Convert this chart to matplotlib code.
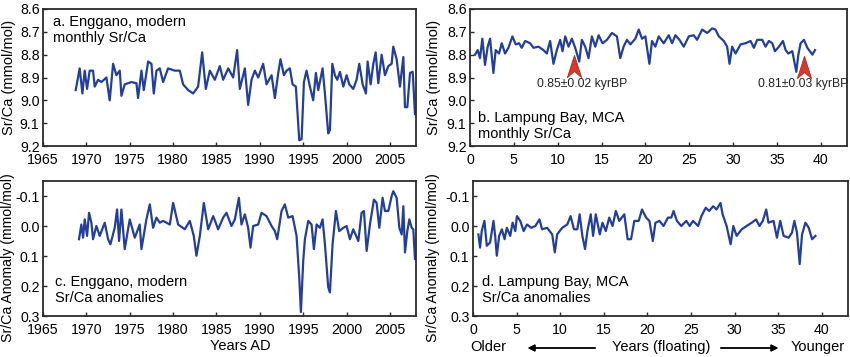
import matplotlib.pyplot as plt
from matplotlib.path import Path

plt.rcParams['font.family'] = ['Liberation Sans', 'DejaVu Sans']

# a. Enggano modern monthly Sr/Ca
a_year = [1968.77, 1969.23, 1969.54, 1969.81, 1970.08, 1970.38, 1970.77, 1970.96, 1971.35, 1971.73,
          1972.31, 1972.69, 1973.08, 1973.46, 1973.85, 1974.04, 1974.42, 1975.19, 1975.77, 1975.96,
          1976.35, 1976.62, 1977.12, 1977.50, 1977.77, 1978.08, 1978.46, 1978.85, 1979.42, 1980.19,
          1980.77, 1981.15, 1981.73, 1982.31, 1982.88, 1983.35, 1983.77, 1984.23, 1984.81, 1985.38,
          1985.77, 1986.35, 1986.92, 1987.38, 1987.69, 1988.27, 1988.65, 1989.04, 1989.42, 1989.81,
          1990.38, 1990.77, 1991.35, 1991.73, 1992.12, 1992.38, 1992.77, 1993.08, 1993.46, 1993.77,
          1994.15, 1994.54, 1994.81, 1995.08, 1995.38, 1995.77, 1996.15, 1996.46, 1996.73, 1997.23,
          1997.50, 1997.88, 1998.08, 1998.35, 1998.65, 1998.92, 1999.23, 1999.62, 2000.00, 2000.31,
          2000.77, 2001.15, 2001.46, 2001.85, 2002.23, 2002.42, 2002.77, 2003.08, 2003.35, 2003.65,
          2004.04, 2004.42, 2004.81, 2005.19, 2005.38, 2005.77, 2006.15, 2006.54, 2006.73, 2007.00,
          2007.31, 2007.62, 2007.88]
a_srca = [8.955, 8.86, 8.97, 8.87, 8.95, 8.87, 8.87, 8.94, 8.91, 8.92,
          8.90, 9.0, 8.84, 8.89, 8.87, 8.98, 8.93, 8.92, 8.925, 8.99,
          8.87, 8.955, 8.83, 8.84, 8.97, 8.87, 8.86, 8.92, 8.86, 8.87,
          8.87, 8.93, 8.955, 8.97, 8.94, 8.79, 8.95, 8.87, 8.91, 8.85,
          8.91, 8.86, 8.90, 8.78, 8.95, 8.86, 9.02, 8.91, 8.87, 8.90,
          8.84, 8.93, 8.89, 8.99, 8.88, 8.82, 8.89, 8.87, 8.86, 8.93,
          8.94, 9.175, 9.17, 8.92, 8.87, 8.94, 9.0, 8.88, 8.955, 8.86,
          8.97, 9.145, 9.13, 8.84, 8.89, 8.91, 8.875, 8.94, 8.89, 8.93,
          8.95, 8.91, 8.84, 8.93, 8.97, 8.83, 8.93, 8.84, 8.79, 8.925,
          8.80, 8.89, 8.85, 8.84, 8.765, 8.82, 8.94, 8.81, 9.03, 9.03,
          8.88, 8.875, 9.06]

# b. Lampung Bay MCA monthly Sr/Ca (floating years)
b_year = [0.57, 0.88, 1.14, 1.41, 1.71, 2.02, 2.29, 2.67, 2.93, 3.31,
          3.62, 4.0, 4.38, 4.84, 5.22, 5.6, 5.9, 6.29, 6.86, 7.24,
          7.81, 8.38, 8.76, 9.14, 9.52, 9.9, 10.29, 10.55, 10.86, 11.24,
          11.62, 12.0, 12.46, 12.76, 13.14, 13.52, 13.9, 14.29, 14.67, 15.12,
          15.62, 16.19, 16.76, 17.14, 17.52, 17.9, 18.29, 18.86, 19.24, 19.62,
          20.0, 20.46, 20.76, 21.14, 21.52, 22.09, 22.67, 23.05, 23.43, 23.89,
          24.38, 24.95, 25.52, 25.9, 26.48, 27.05, 27.62, 28.0, 28.38, 28.95,
          29.33, 29.6, 29.9, 30.29, 30.86, 31.43, 32.0, 32.38, 32.76, 33.33,
          33.71, 34.09, 34.48, 34.78, 35.24, 35.69, 36.0, 36.3, 36.76, 37.22,
          37.45, 37.71, 38.09, 38.48, 39.05, 39.35]
b_srca = [8.80, 8.78, 8.815, 8.73, 8.845, 8.765, 8.73, 8.88, 8.78, 8.795,
          8.75, 8.795, 8.77, 8.72, 8.755, 8.75, 8.77, 8.74, 8.75, 8.77,
          8.765, 8.78, 8.795, 8.74, 8.84, 8.78, 8.735, 8.785, 8.72, 8.765,
          8.73, 8.77, 8.83, 8.735, 8.765, 8.815, 8.72, 8.765, 8.715, 8.75,
          8.735, 8.705, 8.72, 8.815, 8.765, 8.735, 8.755, 8.73, 8.69, 8.73,
          8.72, 8.84, 8.74, 8.765, 8.72, 8.75, 8.715, 8.75, 8.715, 8.735,
          8.765, 8.72, 8.715, 8.735, 8.69, 8.705, 8.685, 8.69, 8.72, 8.74,
          8.765, 8.84, 8.765, 8.795, 8.755, 8.75, 8.74, 8.77, 8.735, 8.735,
          8.765, 8.74, 8.75, 8.785, 8.765, 8.74, 8.78, 8.795, 8.785, 8.875,
          8.80, 8.75, 8.735, 8.77, 8.80, 8.78]

# c. Enggano anomalies
c_year = [1969.15, 1969.42, 1969.62, 1969.81, 1970.08, 1970.31, 1970.58, 1970.77, 1971.15, 1971.54,
          1972.12, 1972.50, 1972.77, 1973.27, 1973.54, 1973.77, 1974.04, 1974.42, 1975.00, 1975.58,
          1976.15, 1976.35, 1976.92, 1977.31, 1977.69, 1978.08, 1978.46, 1978.85, 1979.62, 1980.00,
          1980.58, 1981.35, 1981.92, 1982.38, 1982.69, 1983.08, 1983.54, 1984.04, 1984.62, 1985.19,
          1985.77, 1986.15, 1986.73, 1987.12, 1987.58, 1987.88, 1988.27, 1988.65, 1988.92, 1989.23,
          1989.81, 1990.19, 1990.77, 1991.35, 1991.73, 1992.00, 1992.50, 1992.88, 1993.27, 1993.77,
          1994.23, 1994.54, 1994.73, 1995.00, 1995.19, 1995.58, 1995.96, 1996.23, 1996.54, 1996.92,
          1997.23, 1997.50, 1997.88, 1998.08, 1998.38, 1998.77, 1999.15, 1999.62, 2000.00, 2000.38,
          2000.77, 2001.35, 2001.73, 2002.00, 2002.31, 2002.69, 2003.15, 2003.46, 2003.77, 2004.15,
          2004.42, 2004.81, 2005.19, 2005.38, 2005.77, 2006.08, 2006.35, 2006.54, 2006.73, 2007.00,
          2007.23, 2007.50, 2007.69, 2007.88]
c_anom = [0.044, -0.005, 0.039, -0.022, 0.033, -0.044, -0.011, 0.044, 0.0, 0.033,
          -0.011, 0.044, 0.061, 0.006, -0.055, 0.050, -0.055, 0.077, -0.022, 0.039,
          -0.005, 0.077, -0.022, -0.072, 0.006, -0.028, -0.011, -0.017, -0.005, -0.077,
          -0.005, 0.011, -0.017, 0.033, 0.099, 0.033, -0.077, 0.011, -0.033, 0.011,
          -0.028, -0.044, 0.0, -0.022, -0.094, -0.005, -0.039, 0.006, 0.072, 0.0,
          -0.005, -0.044, -0.033, 0.0, 0.017, 0.044, -0.050, -0.072, -0.028, -0.033,
          0.033, 0.171, 0.287, 0.116, 0.044, -0.017, -0.005, 0.077, -0.005, 0.006,
          -0.022, 0.061, 0.204, 0.221, 0.061, -0.050, 0.017, 0.006, 0.0, 0.044,
          0.011, 0.050, -0.044, -0.050, 0.083, -0.005, -0.088, -0.077, 0.006, -0.094,
          -0.050, -0.050, -0.099, -0.116, -0.094, 0.006, 0.028, -0.066, 0.088, 0.017,
          -0.022, 0.006, 0.011, 0.110]

# d. Lampung Bay anomalies
d_year = [0.62, 0.81, 1.0, 1.31, 1.58, 1.96, 2.35, 2.54, 2.73, 3.0,
          3.31, 3.62, 3.88, 4.27, 4.54, 4.85, 5.04, 5.42, 5.81, 6.19,
          6.69, 7.15, 7.62, 7.92, 8.5, 9.08, 9.38, 9.65, 10.23, 10.81,
          11.19, 11.58, 11.96, 12.23, 12.54, 12.85, 13.12, 13.5, 13.77, 14.08,
          14.54, 14.85, 15.23, 15.62, 16.0, 16.38, 16.77, 17.35, 17.73, 18.12,
          18.5, 19.0, 19.38, 19.85, 20.23, 20.62, 20.92, 21.38, 21.85, 22.35,
          22.73, 23.0, 23.38, 23.88, 24.46, 24.85, 25.23, 25.81, 26.19, 26.69,
          27.08, 27.54, 27.92, 28.38, 28.62, 29.08, 29.54, 29.85, 30.23, 30.81,
          31.38, 31.96, 32.46, 32.85, 33.23, 33.62, 33.88, 34.46, 34.85, 35.23,
          35.62, 36.19, 36.58, 36.85, 37.15, 37.46, 37.73, 38.12, 38.5, 38.88,
          39.27]
d_anom = [0.028, 0.072, 0.017, -0.017, 0.066, 0.055, -0.017, 0.033, 0.099, 0.033,
          0.011, 0.044, 0.006, 0.033, -0.011, 0.017, -0.033, -0.017, 0.017, -0.005,
          0.006, 0.0, -0.022, 0.011, 0.006, 0.028, 0.088, 0.028, 0.006, -0.005,
          -0.033, 0.011, 0.011, -0.039, 0.033, 0.077, 0.017, -0.039, 0.033, -0.039,
          0.028, -0.011, 0.017, -0.028, 0.0, -0.050, -0.017, -0.039, 0.044, 0.044,
          -0.017, -0.017, -0.055, -0.028, -0.017, 0.050, -0.011, -0.017, 0.0, -0.028,
          -0.028, -0.050, -0.017, 0.0, -0.017, 0.0, -0.017, 0.0, -0.033, -0.061,
          -0.050, -0.066, -0.055, -0.077, -0.039, 0.0, 0.061, 0.0, 0.033, 0.011,
          0.0, -0.011, -0.022, 0.0, -0.017, -0.055, -0.011, -0.017, 0.039, -0.017,
          0.033, 0.039, 0.022, -0.017, 0.022, 0.127, 0.028, -0.011, 0.006, 0.044,
          0.033]

# U-Th dates marked in panel b
date_year = [11.83, 38.09]
date_srca = [8.85, 8.856]
date_labels = ['0.85\u00b10.02 kyrBP', '0.81\u00b10.03 kyrBP']

srca_ticks = [8.6, 8.7, 8.8, 8.9, 9.0, 9.1, 9.2]
anom_ticks = [-0.1, 0.0, 0.1, 0.2, 0.3]
year_ticks = list(range(1965, 2010, 5))
float_ticks = list(range(0, 45, 5))

W, H = 850, 357
LINE = '#243f9b'
FRAME = '#2b2b2b'
FS = 10.5

fig = plt.figure(figsize=(8.5, 3.57), dpi=100)


def box(l, t, r, b):
    return [l / W, 1 - b / H, (r - l) / W, (b - t) / H]


def style(ax):
    for s in ax.spines.values():
        s.set_color(FRAME)
        s.set_linewidth(1.3)
    ax.tick_params(direction='in', length=3, width=1, color=FRAME, labelsize=10.2)
    ax.tick_params(axis='x', pad=5)
    ax.tick_params(axis='y', pad=2.5)


def ftext(x, y, s, **kw):
    kw.setdefault('fontsize', FS)
    fig.text(x / W, 1 - y / H, s, **kw)


ax_a = fig.add_axes(box(43, 9, 416, 146))
ax_b = fig.add_axes(box(470, 9, 847, 146))
ax_c = fig.add_axes(box(43, 181, 416, 316))
ax_d = fig.add_axes(box(473, 181, 848, 316))

ax_a.plot(a_year, a_srca, color=LINE, lw=1.6)
ax_b.plot(b_year, b_srca, color=LINE, lw=1.6)
ax_c.plot(c_year, c_anom, color=LINE, lw=1.6)
ax_d.plot(d_year, d_anom, color=LINE, lw=1.6)

for ax in (ax_a, ax_b):
    ax.set_ylim(9.2, 8.6)
    ax.set_yticks(srca_ticks)
    ax.set_yticklabels([f'{v:.1f}' for v in srca_ticks])
for ax in (ax_c, ax_d):
    ax.set_ylim(0.3, -0.15)
    ax.set_yticks(anom_ticks)
    ax.set_yticklabels([f'{v:.1f}' for v in anom_ticks])
for ax in (ax_a, ax_c):
    ax.set_xlim(1965, 2008)
    ax.set_xticks(year_ticks)
for ax in (ax_b, ax_d):
    ax.set_xlim(0, 43)
    ax.set_xticks(float_ticks)
for ax in (ax_a, ax_b, ax_c, ax_d):
    style(ax)

# arrowheads for dated horizons
head = Path([(0, 1), (0.64, -1), (0, -0.45), (-0.64, -1), (0, 1)],
            [Path.MOVETO, Path.LINETO, Path.LINETO, Path.LINETO, Path.CLOSEPOLY])
ax_b.plot(date_year, date_srca, ls='none', marker=head, ms=16,
          mfc='#d8392b', mec='#b02a20', mew=0.6)
ax_b.text(12.8, 8.93, date_labels[0], fontsize=8.7, ha='center', va='center', color='#222222')
ax_b.text(38.0, 8.93, date_labels[1], fontsize=8.7, ha='center', va='center', color='#222222')

# panel captions
ftext(53, 15, 'a. Enggano, modern\nmonthly Sr/Ca', va='top', linespacing=1.15)
ftext(478, 141, 'b. Lampung Bay, MCA\nmonthly Sr/Ca', va='bottom', linespacing=1.15)
ftext(55, 305, 'c. Enggano, modern\nSr/Ca anomalies', va='bottom', linespacing=1.15)
ftext(482, 305, 'd. Lampung Bay, MCA\nSr/Ca anomalies', va='bottom', linespacing=1.15)

# axis labels
ftext(9, 77, 'Sr/Ca (mmol/mol)', rotation=90, ha='center', va='center')
ftext(434, 77, 'Sr/Ca (mmol/mol)', rotation=90, ha='center', va='center')
ftext(8, 258, 'Sr/Ca Anomaly (mmol/mol)', rotation=90, ha='center', va='center', fontsize=10.2)
ftext(433, 258, 'Sr/Ca Anomaly (mmol/mol)', rotation=90, ha='center', va='center', fontsize=10.2)
ftext(240, 346, 'Years AD', ha='center', va='center')
ftext(488, 347, 'Older', ha='center', va='center')
ftext(661, 347, 'Years (floating)', ha='center', va='center')
ftext(818, 347, 'Younger', ha='center', va='center')

arrow_kw = dict(arrowstyle='-|>', color='black', lw=1.0, mutation_scale=10)
fig.add_artist(plt.annotate('', xy=(525 / W, 1 - 348 / H), xytext=(598 / W, 1 - 348 / H),
                            xycoords='figure fraction', arrowprops=arrow_kw))
fig.add_artist(plt.annotate('', xy=(781 / W, 1 - 348 / H), xytext=(718 / W, 1 - 348 / H),
                            xycoords='figure fraction', arrowprops=arrow_kw))

fig.savefig('out.png', dpi=100)
